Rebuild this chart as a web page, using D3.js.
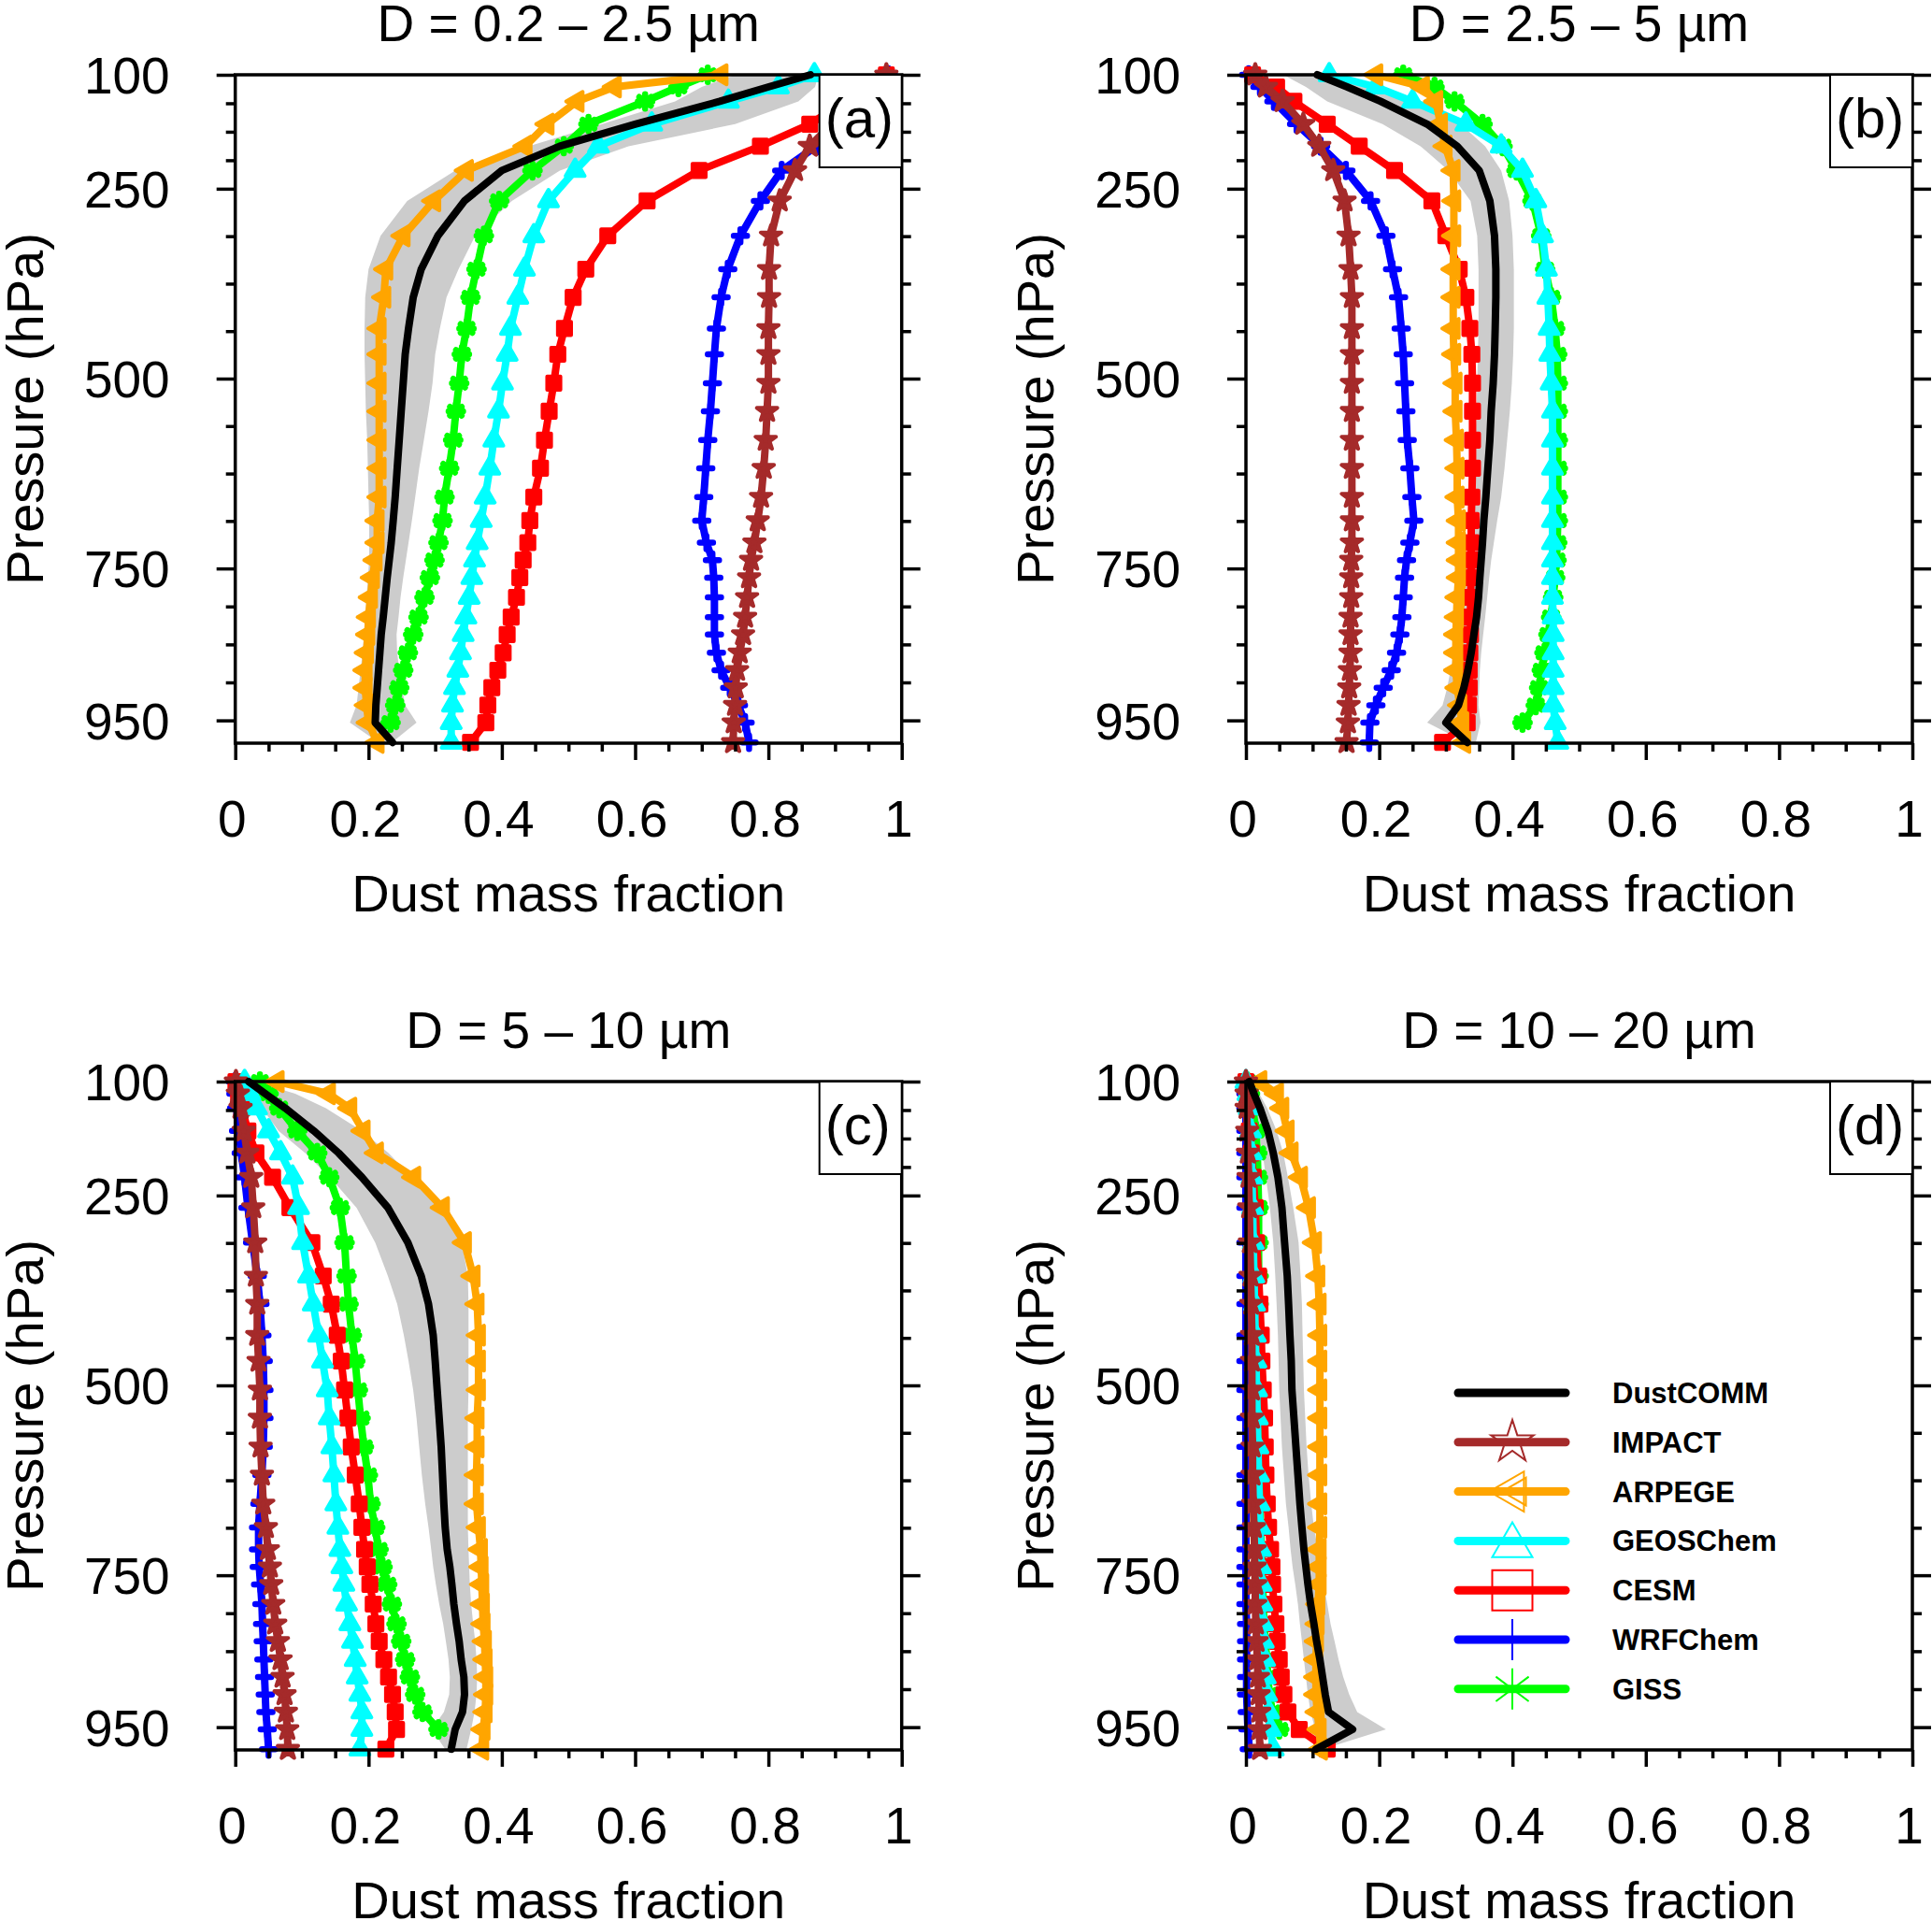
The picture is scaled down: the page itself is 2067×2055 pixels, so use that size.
<!DOCTYPE html>
<html>
<head>
<meta charset="utf-8">
<script src="https://cdn.jsdelivr.net/npm/d3@7"></script>
<style>
  body { margin: 0; background: #fff; }
  svg text { font-family: "Liberation Sans", Arial, Helvetica, sans-serif; }
</style>
</head>
<body>
<svg id="fig" width="2067" height="2055"></svg>
<script>
// pressure levels (hPa) shared by all profiles
var pLev = [100,116,135,165,194,226,266,312,356,393,434,468,506,543,581,618,656,687,716,739,762,788,814,837,861,884,907,930,953,979];

var models = ["DustCOMM","IMPACT","ARPEGE","GEOSChem","CESM","WRFChem","GISS"];
var panelTitles = ["D = 0.2 \u2013 2.5 \u00b5m", "D = 2.5 \u2013 5 \u00b5m", "D = 5 \u2013 10 \u00b5m", "D = 10 \u2013 20 \u00b5m"];
var panelTags = ["(a)","(b)","(c)","(d)"];

var yMajor = [100,250,500,750,950];
var yMinor = [137.5,175,212.5,312.5,375,437.5,562.5,625,687.5,800,850,900];
var xMajor = [0,0.2,0.4,0.6,0.8,1];
var xLabels = ["0","0.2","0.4","0.6","0.8","1"];
var xMinor = [0.05,0.1,0.15,0.25,0.3,0.35,0.45,0.5,0.55,0.65,0.7,0.75,0.85,0.9,0.95];

// ---- (a) 0.2-2.5 um
var commA   = [.863,.800,.727,.600,.487,.400,.344,.304,.279,.267,.260,.255,.252,.249,.246,.243,.240,.237,.234,.231,.228,.225,.222,.219,.217,.215,.213,.211,.210,.236];
var commLoA = [.750,.700,.660,.550,.440,.330,.258,.218,.200,.195,.194,.194,.195,.196,.198,.199,.200,.201,.201,.201,.199,.197,.195,.193,.191,.188,.185,.182,.172,.215];
var commHiA = [.875,.870,.845,.750,.590,.487,.415,.360,.335,.317,.307,.300,.296,.290,.283,.276,.270,.265,.260,.256,.252,.248,.245,.242,.243,.246,.250,.255,.272,.235];
var impactA = [.977,.960,.935,.895,.862,.840,.817,.804,.801,.801,.800,.800,.800,.798,.796,.793,.789,.784,.779,.774,.771,.768,.765,.762,.757,.753,.751,.750,.748,.747];
var arpegeA = [.729,.569,.513,.468,.435,.347,.298,.252,.226,.223,.216,.216,.216,.216,.216,.216,.216,.213,.213,.210,.206,.203,.200,.199,.197,.195,.195,.197,.200,.213];
var geosA   = [.869,.815,.740,.625,.545,.510,.470,.448,.434,.424,.413,.408,.401,.395,.388,.382,.375,.369,.363,.359,.355,.351,.346,.342,.338,.334,.329,.326,.324,.324];
var cesmA   = [.977,.950,.915,.862,.788,.696,.618,.559,.526,.507,.494,.484,.478,.471,.464,.458,.448,.442,.439,.432,.427,.422,.414,.408,.402,.394,.385,.379,.376,.353];
var wrfA    = [.980,.965,.945,.910,.872,.820,.788,.758,.739,.729,.722,.719,.716,.713,.709,.706,.703,.700,.707,.716,.718,.719,.719,.719,.722,.729,.742,.755,.765,.771];
var gissA   = [.709,.665,.615,.530,.493,.446,.396,.373,.362,.353,.347,.340,.336,.331,.327,.321,.314,.311,.305,.299,.292,.284,.275,.267,.259,.252,.246,.240,.233,null];

// ---- (b) 2.5-5 um
var commB   = [.107,.152,.202,.272,.317,.350,.366,.373,.375,.375,.374,.373,.371,.368,.366,.363,.360,.357,.355,.353,.351,.349,.346,.342,.338,.333,.327,.319,.300,.332];
var commLoB = [.056,.090,.122,.205,.262,.304,.337,.347,.349,.349,.349,.348,.347,.346,.344,.342,.340,.337,.334,.331,.328,.324,.320,.316,.312,.307,.302,.295,.272,.330];
var commHiB = [.135,.197,.255,.322,.359,.383,.395,.400,.402,.402,.402,.401,.399,.396,.392,.388,.383,.377,.372,.368,.365,.362,.359,.356,.353,.351,.350,.349,.352,.345];
var impactB = [.014,.030,.055,.086,.110,.131,.148,.154,.157,.159,.159,.159,.159,.159,.159,.159,.159,.159,.159,.158,.158,.158,.157,.157,.157,.156,.155,.154,.153,.151];
var arpegeB = [.195,.265,.285,.292,.299,.311,.312,.312,.311,.311,.311,.312,.314,.314,.316,.317,.317,.319,.319,.319,.319,.317,.316,.315,.315,.315,.317,.321,.324,.327];
var geosB   = [.125,.195,.250,.330,.383,.415,.435,.445,.451,.453,.455,.456,.458,.460,.460,.460,.460,.460,.460,.460,.460,.460,.461,.461,.461,.461,.461,.461,.464,.468];
var cesmB   = [.010,.046,.072,.122,.170,.223,.279,.300,.320,.330,.336,.339,.340,.340,.340,.340,.339,.338,.338,.338,.338,.337,.337,.337,.336,.335,.335,.334,.332,.295];
var wrfB    = [.004,.021,.042,.076,.112,.150,.187,.210,.220,.229,.233,.236,.238,.240,.242,.246,.249,.252,.246,.241,.238,.236,.234,.231,.226,.218,.206,.195,.186,.185];
var gissB   = [.236,.283,.313,.355,.385,.406,.430,.443,.449,.458,.464,.467,.468,.468,.468,.468,.468,.468,.467,.466,.464,.461,.458,.454,.448,.444,.440,.435,.415,null];

// ---- (c) 5-10 um
var commC   = [.020,.045,.075,.118,.155,.190,.229,.259,.279,.290,.297,.300,.303,.306,.309,.311,.313,.315,.318,.322,.325,.328,.332,.336,.339,.343,.344,.341,.330,.324];
var commLoC = [.011,.025,.040,.065,.105,.142,.182,.210,.229,.243,.253,.260,.267,.272,.276,.280,.285,.290,.294,.297,.301,.306,.312,.316,.320,.322,.321,.313,.295,.315];
var commHiC = [.030,.090,.136,.190,.230,.265,.310,.340,.349,.350,.350,.350,.350,.349,.349,.349,.349,.349,.350,.351,.352,.354,.357,.360,.362,.363,.362,.359,.354,.347];
var impactC = [.001,.004,.008,.013,.018,.024,.027,.030,.031,.033,.033,.035,.037,.037,.038,.040,.042,.046,.049,.052,.054,.057,.060,.064,.068,.071,.074,.076,.078,.079];
var arpegeC = [.063,.140,.172,.192,.212,.268,.311,.344,.357,.363,.365,.365,.365,.363,.363,.362,.362,.365,.368,.369,.370,.371,.372,.374,.375,.376,.376,.375,.372,.370];
var geosC   = [.014,.022,.032,.050,.068,.086,.095,.101,.110,.117,.125,.131,.138,.141,.145,.148,.151,.154,.157,.160,.163,.167,.172,.176,.180,.183,.187,.190,.190,.187];
var cesmC   = [.001,.005,.010,.019,.031,.056,.082,.115,.132,.144,.153,.159,.164,.169,.174,.180,.186,.190,.194,.198,.202,.207,.211,.216,.223,.230,.236,.240,.242,.226];
var wrfC    = [.000,.001,.002,.005,.009,.014,.019,.026,.033,.037,.040,.042,.043,.043,.042,.040,.037,.035,.035,.036,.038,.040,.041,.042,.043,.044,.045,.046,.048,.050];
var gissC   = [.037,.050,.066,.093,.123,.141,.157,.164,.167,.170,.175,.180,.184,.188,.193,.199,.203,.210,.215,.221,.228,.235,.242,.249,.255,.262,.270,.281,.305,null];

// ---- (d) 10-20 um
var commD   = [.005,.012,.021,.033,.041,.048,.054,.058,.062,.064,.066,.068,.069,.072,.075,.078,.081,.084,.087,.090,.093,.097,.102,.106,.111,.115,.119,.124,.160,.105];
var commLoD = [.002,.006,.011,.019,.025,.030,.036,.041,.044,.046,.048,.049,.050,.052,.054,.057,.060,.064,.067,.070,.074,.078,.081,.084,.087,.090,.093,.097,.104,.100];
var commHiD = [.009,.020,.032,.046,.056,.063,.071,.079,.082,.084,.085,.086,.087,.089,.091,.094,.098,.102,.108,.113,.117,.122,.127,.133,.139,.146,.155,.167,.210,.115];
var impactD = [.000,.001,.001,.002,.003,.004,.005,.006,.007,.008,.009,.009,.009,.009,.010,.010,.011,.012,.013,.013,.014,.014,.015,.016,.017,.018,.019,.020,.020,.021];
var arpegeD = [.021,.046,.054,.062,.068,.082,.094,.103,.108,.110,.111,.111,.111,.111,.111,.111,.111,.111,.110,.110,.110,.108,.107,.106,.105,.105,.105,.107,.110,.112];
var geosD   = [.000,.003,.005,.007,.008,.009,.010,.011,.012,.013,.014,.015,.016,.017,.018,.019,.020,.021,.022,.022,.023,.024,.025,.026,.028,.029,.031,.034,.037,.041];
var cesmD   = [.000,.001,.002,.005,.008,.011,.014,.016,.019,.021,.023,.024,.026,.028,.029,.030,.032,.034,.037,.039,.040,.042,.045,.047,.050,.053,.057,.063,.080,.122];
var wrfD    = [.000,.000,.000,.000,.000,.000,.000,.000,.000,.000,.000,.000,.000,.000,.000,.000,.000,.000,.000,.000,.000,.000,.001,.001,.001,.001,.001,.002,.003,.005];
var gissD   = [.002,.006,.010,.015,.017,.018,.019,.019,.019,.019,.018,.018,.018,.018,.019,.020,.021,.022,.023,.024,.025,.026,.027,.029,.031,.033,.035,.039,.050,null];

var panelData = [
  { comm: commA, lo: commLoA, hi: commHiA, IMPACT: impactA, ARPEGE: arpegeA, GEOSChem: geosA, CESM: cesmA, WRFChem: wrfA, GISS: gissA },
  { comm: commB, lo: commLoB, hi: commHiB, IMPACT: impactB, ARPEGE: arpegeB, GEOSChem: geosB, CESM: cesmB, WRFChem: wrfB, GISS: gissB },
  { comm: commC, lo: commLoC, hi: commHiC, IMPACT: impactC, ARPEGE: arpegeC, GEOSChem: geosC, CESM: cesmC, WRFChem: wrfC, GISS: gissC },
  { comm: commD, lo: commLoD, hi: commHiD, IMPACT: impactD, ARPEGE: arpegeD, GEOSChem: geosD, CESM: cesmD, WRFChem: wrfD, GISS: gissD }
];

// stroke-only marker shapes (plus and asterisk)
var plusSym = {
  draw: function (ctx, size) {
    var r = Math.sqrt(size) / 2;
    ctx.moveTo(0, -r); ctx.lineTo(0, r);
    ctx.moveTo(-r, 0); ctx.lineTo(r, 0);
  }
};
var asteriskSym = {
  draw: function (ctx, size) {
    var r = Math.sqrt(size) / 2, u = r * 0.8, t = r * 0.6;
    ctx.moveTo(0, -r); ctx.lineTo(0, r);
    ctx.moveTo(-r, 0); ctx.lineTo(r, 0);
    ctx.moveTo(-u, -t); ctx.lineTo(u, t);
    ctx.moveTo(-u, t); ctx.lineTo(u, -t);
  }
};

var styles = {
  DustCOMM: { color: "#000000" },
  IMPACT:   { color: "#a52a2a", sym: d3.symbolStar,     rot: 0,   size: 150, fill: true,  legSize: 640 },
  ARPEGE:   { color: "#ffa500", sym: d3.symbolTriangle, rot: -90, size: 180, fill: true,  legSize: 800 },
  GEOSChem: { color: "#00ffff", sym: d3.symbolTriangle, rot: 0,   size: 180, fill: true,  legSize: 800 },
  CESM:     { color: "#ff0000", sym: d3.symbolSquare,   rot: 0,   size: 200, fill: true,  legSize: 1850 },
  WRFChem:  { color: "#0000ff", sym: plusSym,           rot: 0,   size: 200, fill: false, legSize: 1936 },
  GISS:     { color: "#00ff00", sym: asteriskSym,       rot: 0,   size: 240, fill: false, legSize: 1936 }
};
var drawOrder = ["WRFChem","GISS","CESM","GEOSChem","ARPEGE","IMPACT"];

var W = 713, H = 715;
var panelPos = [[251.7, 80], [1333, 80], [251.7, 1157], [1333, 1157]];
var FONT = 55;

var svg = d3.select("#fig");

panelData.forEach(function (pd, k) {
  var g = svg.append("g").attr("transform", "translate(" + panelPos[k][0] + "," + panelPos[k][1] + ")");
  var x = d3.scaleLinear().domain([0, 1]).range([0, W]);
  var y = d3.scaleLinear().domain([100, 980]).range([0, H]);
  var idx = d3.range(pLev.length);

  // DustCOMM uncertainty band
  var band = d3.area()
    .x0(function (i) { return x(pd.lo[i]); })
    .x1(function (i) { return x(pd.hi[i]); })
    .y(function (i) { return y(pLev[i]); });
  g.append("path").datum(idx).attr("d", band).attr("fill", "#cccccc");

  drawOrder.forEach(function (name) {
    var vals = pd[name], st = styles[name];
    var ok = idx.filter(function (i) { return vals[i] != null; });
    var line = d3.line()
      .x(function (i) { return x(vals[i]); })
      .y(function (i) { return y(pLev[i]); });
    g.append("path").datum(ok).attr("d", line)
      .attr("fill", "none").attr("stroke", st.color)
      .attr("stroke-width", 8).attr("stroke-linejoin", "round");
    var sym = d3.symbol().type(st.sym).size(st.size);
    g.append("g").selectAll("path").data(ok).enter().append("path")
      .attr("d", sym)
      .attr("transform", function (i) { return "translate(" + x(vals[i]) + "," + y(pLev[i]) + ") rotate(" + st.rot + ")"; })
      .attr("fill", st.fill ? st.color : "none")
      .attr("stroke", st.color)
      .attr("stroke-width", st.fill ? 4 : 6.5)
      .attr("stroke-linejoin", "round")
      .attr("stroke-linecap", "round");
  });

  // DustCOMM mean
  var meanLine = d3.line()
    .x(function (i) { return x(pd.comm[i]); })
    .y(function (i) { return y(pLev[i]); });
  g.append("path").datum(idx).attr("d", meanLine)
    .attr("fill", "none").attr("stroke", "#000").attr("stroke-width", 8)
    .attr("stroke-linejoin", "round").attr("stroke-linecap", "round");

  // frame
  g.append("rect").attr("width", W).attr("height", H)
    .attr("fill", "none").attr("stroke", "#000").attr("stroke-width", 3.5);

  // axes
  function styleAxis(a) {
    a.attr("font-size", FONT).attr("font-family", null).attr("color", "#000");
    a.select(".domain").remove();
    a.selectAll("line").attr("stroke-width", 3.5);
  }
  g.append("g").call(d3.axisLeft(y).tickValues(yMajor).tickSize(20).tickPadding(50).tickSizeOuter(0))
    .call(styleAxis).selectAll("text").attr("dy", "0.36em");
  g.append("g").call(d3.axisLeft(y).tickValues(yMinor).tickSize(10).tickFormat("").tickSizeOuter(0)).call(styleAxis);
  g.append("g").attr("transform", "translate(" + W + ",0)")
    .call(d3.axisRight(y).tickValues(yMajor).tickSize(20).tickFormat("").tickSizeOuter(0)).call(styleAxis);
  g.append("g").attr("transform", "translate(" + W + ",0)")
    .call(d3.axisRight(y).tickValues(yMinor).tickSize(10).tickFormat("").tickSizeOuter(0)).call(styleAxis);
  g.append("g").attr("transform", "translate(0," + H + ")")
    .call(d3.axisBottom(x).tickValues(xMajor).tickSize(18).tickPadding(43).tickSizeOuter(0)
      .tickFormat(function (d, i) { return xLabels[i]; }))
    .call(styleAxis).selectAll("text").attr("dx", -4);
  g.append("g").attr("transform", "translate(0," + H + ")")
    .call(d3.axisBottom(x).tickValues(xMinor).tickSize(9).tickFormat("").tickSizeOuter(0)).call(styleAxis);

  // panel tag box
  g.append("rect").attr("x", W - 88).attr("y", 0).attr("width", 88).attr("height", 99)
    .attr("fill", "#fff").attr("stroke", "#000").attr("stroke-width", 2);
  g.append("text").attr("x", W - 82).attr("y", 67).attr("font-size", 60).text(panelTags[k]);

  // titles
  g.append("text").attr("x", W / 2).attr("y", -36).attr("text-anchor", "middle")
    .attr("font-size", 55).text(panelTitles[k]);
  g.append("text").attr("x", W / 2).attr("y", H + 180).attr("text-anchor", "middle")
    .attr("font-size", 56).text("Dust mass fraction");
  g.append("text").attr("transform", "translate(-206," + (H / 2) + ") rotate(-90)")
    .attr("text-anchor", "middle").attr("font-size", 56).text("Pressure (hPa)");
});

// legend (panel d)
var leg = svg.append("g");
models.forEach(function (name, i) {
  var st = styles[name], cy = 1490 + i * 52.8;
  leg.append("line").attr("x1", 1560).attr("x2", 1675).attr("y1", cy).attr("y2", cy)
    .attr("stroke", st.color).attr("stroke-width", 9).attr("stroke-linecap", "round");
  if (st.sym) {
    var dy = (st.sym === d3.symbolTriangle && st.rot === 0) ? 5 : 0;
    leg.append("path").attr("d", d3.symbol().type(st.sym).size(st.legSize)())
      .attr("transform", "translate(1618," + (cy + dy) + ") rotate(" + st.rot + ")")
      .attr("fill", "none").attr("stroke", st.color).attr("stroke-width", 2);
    if (name === "ARPEGE") {
      leg.append("path").attr("d", d3.symbol().type(st.sym).size(380)())
        .attr("transform", "translate(1624," + cy + ") rotate(-90)")
        .attr("fill", "none").attr("stroke", st.color).attr("stroke-width", 2);
    }
  }
  leg.append("text").attr("x", 1725).attr("y", cy + 11)
    .attr("font-size", 31).attr("font-weight", "bold").text(name);
});
</script>
</body>
</html>
